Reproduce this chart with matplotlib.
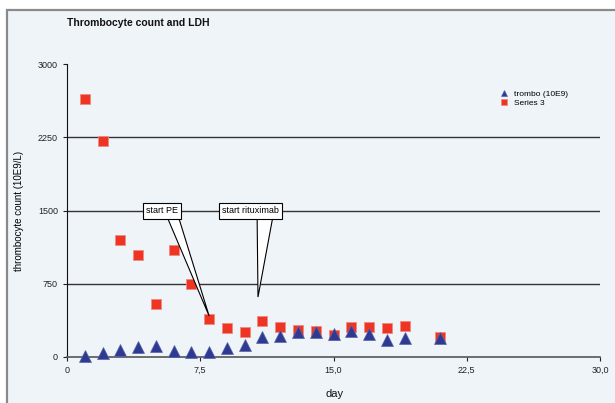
import matplotlib
matplotlib.use("Agg")
import matplotlib.pyplot as plt
from matplotlib.patches import Rectangle, Polygon

plt.rcParams['font.family'] = ['Liberation Sans', 'DejaVu Sans']

# thrombocyte counts and second series
days = [1, 2, 3, 4, 5, 6, 7, 8, 9, 10, 11, 12, 13, 14, 15, 16, 17, 18, 19, 21]
trombo = [15, 40, 70, 100, 110, 60, 50, 50, 90, 120, 200, 210,
          260, 260, 240, 270, 240, 175, 190, 190]
series3 = [2640, 2210, 1200, 1040, 543, 1096, 747, 389, 297, 256, 369, 307,
           276, 266, 225, 307, 307, 297, 317, 205]

x_ticks = [0, 7.5, 15, 22.5, 30]
x_tick_labels = ["0", "7,5", "15,0", "22,5", "30,0"]
y_ticks = [0, 750, 1500, 2250, 3000]

# callouts: text, box centre (day, value), wedge base (day from, day to), tip (day, value)
callout_text = ["start PE", "start rituximab"]
callout_box = [(5.35, 1495), (10.35, 1495)]
callout_base = [(5.6, 6.25), (10.7, 11.6)]
callout_tip = [(8.0, 420), (10.75, 614)]

bg = "#eff4f9"

fig = plt.figure(figsize=(6.15, 4.03), dpi=100)
fig.patch.set_facecolor("white")
frame = Rectangle((7 / 615, -0.1), 1.1, 1.1 - 10 / 403,
                  transform=fig.transFigure, facecolor=bg,
                  edgecolor="#8a8a8a", linewidth=1.6, zorder=-10)
fig.patches.append(frame)

ax = fig.add_axes([67 / 615, 46 / 403, 533 / 615, 293 / 403])
ax.set_facecolor("none")
ax.set_zorder(1)

ax.set_xlim(0, 30)
ax.set_ylim(0, 3000)
ax.set_xticks(x_ticks)
ax.set_xticklabels(x_tick_labels)
ax.set_yticks(y_ticks)
ax.tick_params(labelsize=6.5, length=3, width=0.8, direction="out", colors="#222222")

for g in y_ticks[1:-1]:
    ax.axhline(g, color="#333333", linewidth=1.0, zorder=1)

for side in ["top", "right"]:
    ax.spines[side].set_visible(False)
ax.spines["left"].set_color("#111111")
ax.spines["bottom"].set_color("#555555")
ax.spines["bottom"].set_linewidth(1.2)

ax.plot(days, series3, linestyle="none", marker="s", markersize=7.5,
        color="#ee3524", markeredgecolor="#f08a80", markeredgewidth=0.6,
        label="Series 3", zorder=3, clip_on=False)
ax.plot(days, trombo, linestyle="none", marker="^", markersize=9,
        color="#2e3a92", markeredgecolor="#5a64a8", markeredgewidth=0.5,
        label="trombo (10E9)", zorder=4, clip_on=False)

# callout boxes with wedge pointers
box_bottom = 1434
for txt, (bx, by), (b0, b1), (tx, ty) in zip(callout_text, callout_box,
                                              callout_base, callout_tip):
    ax.add_patch(Polygon([(b0, box_bottom + 15), (b1, box_bottom + 15), (tx, ty)],
                         closed=True, facecolor="white", edgecolor="black",
                         linewidth=0.8, zorder=5))
    ax.text(bx, by, txt, fontsize=6.5, ha="center", va="center", zorder=6,
            bbox=dict(boxstyle="square,pad=0.35", facecolor="white",
                      edgecolor="black", linewidth=0.8))

handles, labels = ax.get_legend_handles_labels()
leg = ax.legend(handles[::-1], labels[::-1], loc="upper left",
                bbox_to_anchor=(0.805, 0.925), frameon=False, fontsize=6,
                handletextpad=0.6, labelspacing=0.1,
                handlelength=1.0, borderpad=0)
for h in leg.legend_handles:
    h.set_markersize(5)

ax.set_ylabel("thrombocyte count (10E9/L)", fontsize=7, labelpad=10)
fig.text(335 / 615, 1 - 394 / 403, "day", fontsize=8, ha="center",
         va="center", color="#111111")

fig.text(67 / 615, 1 - 23 / 403, "Thrombocyte count and LDH", fontsize=7.5,
         fontweight="bold", ha="left", va="center", color="#111111")

fig.savefig("out.png", dpi=100)
